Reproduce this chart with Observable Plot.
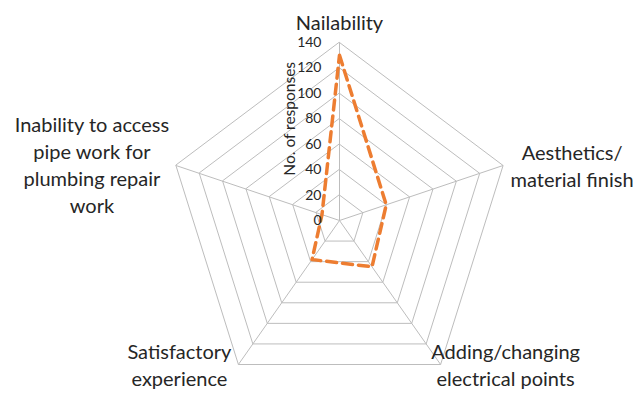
<!DOCTYPE html>
<html>
<head>
<meta charset="utf-8">
<script src="https://cdn.jsdelivr.net/npm/d3@7"></script>
<script src="https://cdn.jsdelivr.net/npm/@observablehq/plot@0.6"></script>
<style>
  body { margin: 0; background: #fff; }
  #chart svg { display: block; }
</style>
</head>
<body>
<div id="chart"></div>
<script>
// Survey categories, clockwise from the top spoke
const categories = [
  "Nailability",
  "Aesthetics/\nmaterial finish",
  "Adding/changing\nelectrical points",
  "Satisfactory\nexperience",
  "Inability to access\npipe work for\nplumbing repair\nwork"
];
// Number of responses per category
const responses = [130, 40, 45, 38, 15];
// Radial scale ticks
const tickValues = [0, 20, 40, 60, 80, 100, 120, 140];
const axisTitle = "No. of responses";

const maxValue = d3.max(tickValues);
const n = categories.length;
const angle = i => (i * 2 * Math.PI) / n;
const polar = (v, i) => ({ x: v * Math.sin(angle(i)), y: v * Math.cos(angle(i)) });

// Concentric pentagon grid, one ring per tick (except 0)
const rings = tickValues.filter(t => t > 0).flatMap(t =>
  categories.map((c, i) => ({ ...polar(t, i), level: t }))
);
const spokes = categories.map((c, i) => ({ ...polar(maxValue, i) }));
const series = responses.map((v, i) => polar(v, i));

// Label offsets from each outer vertex
const labelOffsets = [
  { dx: 0, dy: -21 },
  { dx: 69, dy: -1 },
  { dx: 65, dy: -1 },
  { dx: -59, dy: -1 },
  { dx: -84, dy: -2 }
];

const textColor = "#262626";
const font = "Lato, 'Open Sans', sans-serif";

const labelMarks = categories.map((c, i) =>
  Plot.text([{ ...polar(maxValue, i), label: c }], {
    x: "x", y: "y", text: "label",
    dx: labelOffsets[i].dx, dy: labelOffsets[i].dy,
    textAnchor: "middle", lineAnchor: "middle", lineHeight: 1.35,
    fontSize: 20, fill: textColor
  })
);

const chart = Plot.plot({
  width: 643,
  height: 396,
  margin: 0,
  style: { fontFamily: font, background: "#fff" },
  x: { domain: [-maxValue, maxValue], range: [167, 511], axis: null },
  y: { domain: [-maxValue, maxValue], range: [398, 42], axis: null },
  marks: [
    Plot.line(rings, {
      x: "x", y: "y", z: "level", curve: "linear-closed",
      stroke: "#bdbdbd", strokeWidth: 1
    }),
    Plot.link(spokes, {
      x1: 0, y1: 0, x2: "x", y2: "y",
      stroke: "#bdbdbd", strokeWidth: 1
    }),
    Plot.line(series, {
      x: "x", y: "y", curve: "linear-closed",
      stroke: "#ED7D31", strokeWidth: 3.5, strokeDasharray: "10,6"
    }),
    Plot.text(tickValues, {
      x: 0, y: d => d, text: d => String(d),
      textAnchor: "end", dx: -18, fontSize: 14, fill: textColor
    }),
    Plot.text([axisTitle], {
      x: 0, y: 80, text: d => d, rotate: -90,
      dx: -49, fontSize: 15.5, fill: textColor
    }),
    ...labelMarks
  ]
});

document.getElementById("chart").append(chart);
</script>
</body>
</html>
